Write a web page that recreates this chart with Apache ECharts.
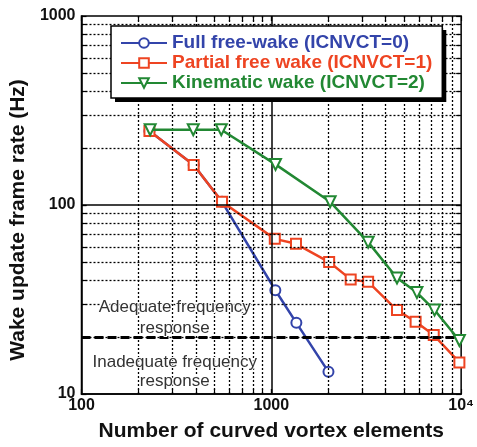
<!DOCTYPE html>
<html><head><meta charset="utf-8">
<script src="https://cdn.jsdelivr.net/npm/echarts@6/dist/echarts.min.js"></script>
<style>html,body{margin:0;padding:0;background:#fff}#c{width:477px;height:447px}</style>
</head><body><div id="c"></div>
<script>
const seriesNames = ['Full free-wake (ICNVCT=0)', 'Partial free wake (ICNVCT=1)', 'Kinematic wake (ICNVCT=2)'];
const fullX = [228, 390, 550, 1050, 1355, 2000];
const fullY = [246, 163, 104, 35.4, 23.8, 13.1];
const partialX = [228, 390, 550, 1043, 1349, 2017, 2619, 3236, 4593, 5757, 7172, 9790];
const partialY = [246, 163, 104, 66.2, 62.3, 49.9, 40.4, 39.2, 27.8, 24.1, 20.5, 14.7];
const kinX = [230, 388, 545, 1052, 2041, 3236, 4593, 5849, 7244, 9790];
const kinY = [250, 250, 250, 164, 104, 63.6, 41.1, 34.4, 27.8, 19.2];
const threshold = 20;
const xMinorGrid = [200,300,400,500,600,700,800,900,2000,3000,4000,5000,6000,7000,8000,9000];
const xMajorGrid = [1000];
const yMinorGrid = [20,30,40,50,60,70,80,90,200,300,400,500,600,700,800,900];
const yMajorGrid = [100];
const xTickValues = [100, 1000, 10000];
const yTickValues = [10, 100, 1000];
const colors = ['#3344aa', '#ee4422', '#228833'];

const zip = (a, b) => a.map((v, i) => [v, b[i]]);
const chart = echarts.init(document.getElementById('c'));
const gridLines = [].concat(
  xMinorGrid.map(v => ({xAxis: v, lineStyle: {type: [2, 2], width: 1.3, color: '#000'}})),
  yMinorGrid.map(v => ({yAxis: v, lineStyle: {type: [2, 2], width: 1.3, color: '#000'}})),
  xMajorGrid.map(v => ({xAxis: v, lineStyle: {type: 'solid', width: 1.5, color: '#000'}})),
  yMajorGrid.map(v => ({yAxis: v, lineStyle: {type: 'solid', width: 1.5, color: '#000'}}))
);
const FF = 'Liberation Sans, Arial';
const lbl = {fontFamily: FF, fontWeight: 'bold', fontSize: 16, color: '#111'};
const xTicksAll = xTickValues.concat(xMinorGrid, xMajorGrid);
const yTicksAll = yTickValues.concat(yMinorGrid, yMajorGrid);
const tickStyle = {show: true, inside: true, length: 5, lineStyle: {color: '#000', width: 1.2}};
const legendBase = {
  orient: 'vertical', left: 111, top: 26, itemGap: 0, itemWidth: 46, itemHeight: 12,
  padding: [7, 10, 5, 9], selectedMode: false,
  textStyle: {fontFamily: FF, fontWeight: 'bold', fontSize: 19, lineHeight: 20}
};
const txtStyle = {fontFamily: FF, fontSize: 17, fill: '#333', textAlign: 'center', textVerticalAlign: 'middle', stroke: '#fff', lineWidth: 2};
chart.setOption({
  animation: false,
  grid: {left: 81, right: 13, top: 16, bottom: 51, show: true, borderColor: '#000', borderWidth: 1.5, backgroundColor: 'transparent'},
  xAxis: [{
    type: 'log', logBase: 10, min: 100, max: 10000,
    name: 'Number of curved vortex elements', nameLocation: 'middle', nameGap: 27,
    nameTextStyle: {fontFamily: FF, fontWeight: 'bold', fontSize: 21, color: '#111'},
    axisLine: {show: true, lineStyle: {color: '#000', width: 1.5}},
    axisTick: Object.assign({customValues: xTicksAll}, tickStyle),
    axisLabel: Object.assign({margin: 4, customValues: xTickValues, formatter: v => v >= 10000 ? '10⁴' : String(Math.round(v))}, lbl),
    splitLine: {show: false}
  }, {
    type: 'log', logBase: 10, min: 100, max: 10000, position: 'top',
    axisLine: {show: false}, axisLabel: {show: false}, splitLine: {show: false},
    axisTick: Object.assign({customValues: xTicksAll}, tickStyle)
  }],
  yAxis: [{
    type: 'log', logBase: 10, min: 10, max: 1000,
    name: 'Wake update frame rate (Hz)', nameLocation: 'middle', nameGap: 45,
    nameTextStyle: {fontFamily: FF, fontWeight: 'bold', fontSize: 21, color: '#111', padding: [0, 30, 0, 0]},
    axisLine: {show: true, lineStyle: {color: '#000', width: 1.5}},
    axisTick: Object.assign({customValues: yTicksAll}, tickStyle),
    axisLabel: Object.assign({margin: 6, customValues: yTickValues, formatter: v => String(Math.round(v))}, lbl),
    splitLine: {show: false}
  }, {
    type: 'log', logBase: 10, min: 10, max: 1000, position: 'right',
    axisLine: {show: false}, axisLabel: {show: false}, splitLine: {show: false},
    axisTick: Object.assign({customValues: yTicksAll}, tickStyle)
  }],
  legend: [
    Object.assign({}, legendBase, {
      z: 20, backgroundColor: '#fff', borderWidth: 0,
      shadowColor: '#000', shadowBlur: 0, shadowOffsetX: 4, shadowOffsetY: 4,
      data: seriesNames.map((n, i) => ({name: n, textStyle: {color: colors[i], fontWeight: 'bold', fontSize: 19, lineHeight: 20, fontFamily: FF}}))
    }),
    Object.assign({}, legendBase, {
      z: 21, backgroundColor: 'transparent', borderColor: '#000', borderWidth: 1.5,
      itemStyle: {opacity: 0}, lineStyle: {opacity: 0},
      data: seriesNames.map(n => ({name: n, textStyle: {color: 'rgba(0,0,0,0)', fontWeight: 'bold', fontSize: 19, lineHeight: 20, fontFamily: FF}}))
    })
  ],
  series: [
    {
      name: 'grid', type: 'line', data: [[100, 10]], symbol: 'none', lineStyle: {opacity: 0}, silent: true, z: 1,
      markLine: {silent: true, symbol: ['none', 'none'], label: {show: false}, animation: false, data: gridLines.concat([
        {yAxis: threshold, lineStyle: {type: [9, 4], width: 3, color: '#000'}}
      ])}
    },
    {
      name: seriesNames[0], type: 'line', data: zip(fullX, fullY), color: colors[0], z: 3,
      symbol: 'emptyCircle', symbolSize: 10, lineStyle: {width: 2.5}, itemStyle: {borderWidth: 1.5}
    },
    {
      name: seriesNames[1], type: 'line', data: zip(partialX, partialY), color: colors[1], z: 4,
      symbol: 'emptyRect', symbolSize: 10, lineStyle: {width: 2.5}, itemStyle: {borderWidth: 1.5}
    },
    {
      name: seriesNames[2], type: 'line', data: zip(kinX, kinY), color: colors[2], z: 5,
      symbol: 'emptyTriangle', symbolRotate: 180, symbolSize: 11, lineStyle: {width: 2.5}, itemStyle: {borderWidth: 1.5}
    }
  ]
});
const place = (xv, yv) => chart.convertToPixel({gridIndex: 0}, [xv, yv]);
const lines = [['Adequate frequency', 28.6], ['response', 22.35], ['Inadequate frequency', 14.8], ['response', 11.7]];
chart.setOption({graphic: lines.map(([t, yv]) => {
  const p = place(310, yv);
  return {type: 'text', x: p[0], y: p[1], z: 10, silent: true, style: Object.assign({text: t}, txtStyle)};
})});
</script></body></html>
